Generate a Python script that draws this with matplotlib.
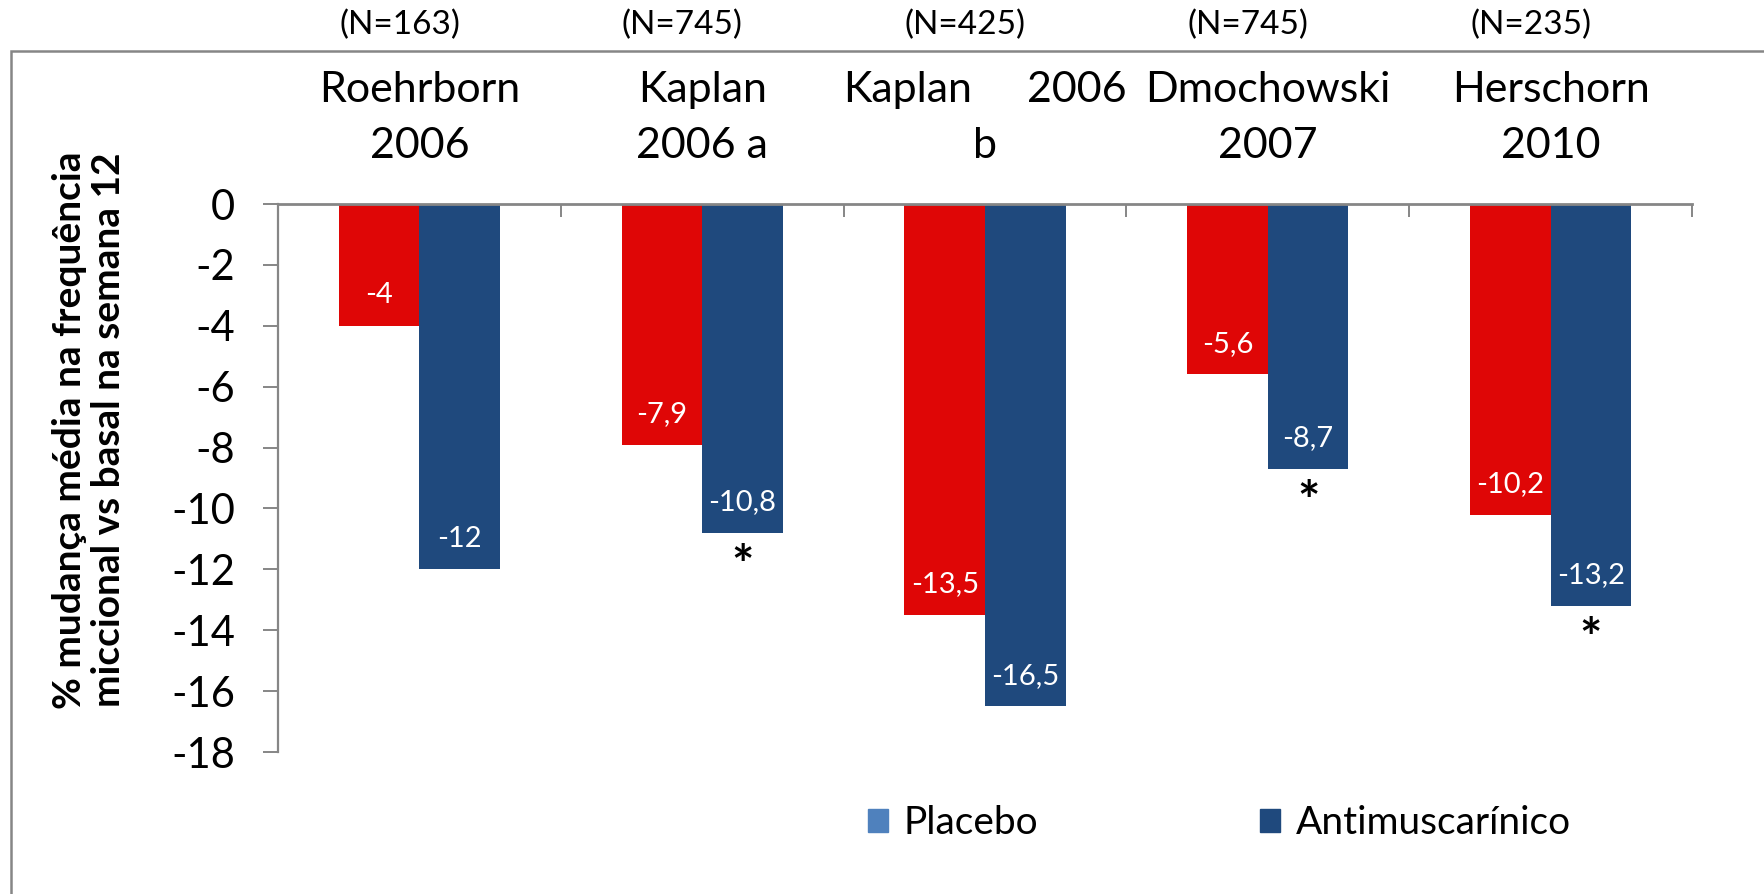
import numpy as np
import matplotlib
matplotlib.use("Agg")
import matplotlib.pyplot as plt
from matplotlib.patches import Patch, Rectangle
from matplotlib.transforms import blended_transform_factory

plt.rcParams['font.family'] = ['Lato', 'DejaVu Sans']

# --- data ---
studies = ["Roehrborn\n2006", "Kaplan\n2006 a", "Kaplan 2006\nb", "Dmochowski\n2007", "Herschorn\n2010"]
sample_sizes = ["(N=163)", "(N=745)", "(N=425)", "(N=745)", "(N=235)"]
placebo = [-4, -7.9, -13.5, -5.6, -10.2]
antimuscarinic = [-12, -10.8, -16.5, -8.7, -13.2]
significant = [False, True, False, True, True]
y_ticks = list(range(0, -19, -2))
series_names = ["Placebo", "Antimuscarínico"]

RED = "#DF0606"
BLUE = "#1F497D"
LEGEND_PLACEBO = "#4F81BD"
GRAY = "#868686"

W, H = 1765, 894
fig = plt.figure(figsize=(W / 100, H / 100), dpi=100)
ax = fig.add_axes([278 / W, 1 - 752 / H, (1692 - 278) / W, (752 - 204) / H])

x = np.arange(len(studies))
bw = 0.285
ax.bar(x - bw / 2, placebo, bw, color=RED, linewidth=0)
ax.bar(x + bw / 2, antimuscarinic, bw, color=BLUE, linewidth=0)

ax.set_xlim(-0.5, len(studies) - 0.5)
ax.set_ylim(-18, 0)

# axes styling
for side in ("right", "bottom"):
    ax.spines[side].set_visible(False)
ax.spines["left"].set_color(GRAY)
ax.spines["left"].set_linewidth(1.6)
ax.spines["top"].set_color(GRAY)
ax.spines["top"].set_linewidth(2.0)

ax.xaxis.tick_top()
ax.set_xticks(np.arange(0.5, len(studies), 1.0))
ax.set_xticklabels([])
ax.tick_params(axis="x", direction="in", length=9.5, width=1.4, color=GRAY)

ax.set_yticks(y_ticks)
ax.set_yticklabels([f"{t}" for t in y_ticks])
ax.tick_params(axis="y", direction="out", length=10.8, width=1.4, color=GRAY,
               labelsize=30, pad=20)

# value labels inside bars
def fmt(v):
    s = f"{v:g}"
    return s.replace(".", ",")

for xi, v in zip(x - bw / 2, placebo):
    ax.annotate(fmt(v), (xi, v), xytext=(0, 22), textcoords="offset points",
                ha="center", va="center", color="white", fontsize=21)
for xi, v in zip(x + bw / 2, antimuscarinic):
    ax.annotate(fmt(v), (xi, v), xytext=(0, 22), textcoords="offset points",
                ha="center", va="center", color="white", fontsize=21)

for xi, v, sig in zip(x + bw / 2, antimuscarinic, significant):
    if sig:
        ax.annotate("*", (xi, v), xytext=(0, -8), textcoords="offset points",
                    ha="center", va="top", color="black", fontsize=38, fontweight="bold")

# category headings above the plot
tr = blended_transform_factory(ax.transData, fig.transFigure)
line1_y = 1 - 90 / H
line2_y = 1 - 146 / H
for xi, label, n in zip(x, studies, sample_sizes):
    first, second = label.split("\n")
    words = first.split(" ")
    if len(words) > 1:
        ax.text(xi - 0.5, line1_y, words[0], transform=tr, ha="left", va="center", fontsize=31)
        ax.text(xi + 0.5, line1_y, words[-1], transform=tr, ha="right", va="center", fontsize=31)
    else:
        ax.text(xi, line1_y, first, transform=tr, ha="center", va="center", fontsize=31)
    ax.text(xi, line2_y, second, transform=tr, ha="center", va="center", fontsize=31)
    ax.text(xi - 0.07, 1 - 25 / H, n, transform=tr, ha="center", va="center", fontsize=24)

# y-axis title
fig.text(89 / W, 1 - 430 / H,
         "% mudança média na frequência\nmiccional vs basal na semana 12",
         rotation=90, ha="center", va="center", fontsize=28, fontweight="bold",
         linespacing=1.15)

# legend
handles = [Patch(color=LEGEND_PLACEBO), Patch(color=BLUE)]
fig.legend(handles, series_names, loc="center left",
           bbox_to_anchor=(868 / W, 1 - 823 / H), ncol=2, frameon=False,
           fontsize=28, handlelength=0.52, handleheight=0.52, handletextpad=0.4,
           columnspacing=5.7, borderpad=0, borderaxespad=0)

# outer chart frame
fig.patches.append(Rectangle((11 / W, -0.2), 1.5, 1.2 - 51 / H, transform=fig.transFigure,
                             fill=False, edgecolor=GRAY, linewidth=1.8))

fig.savefig("out.png", dpi=100)
